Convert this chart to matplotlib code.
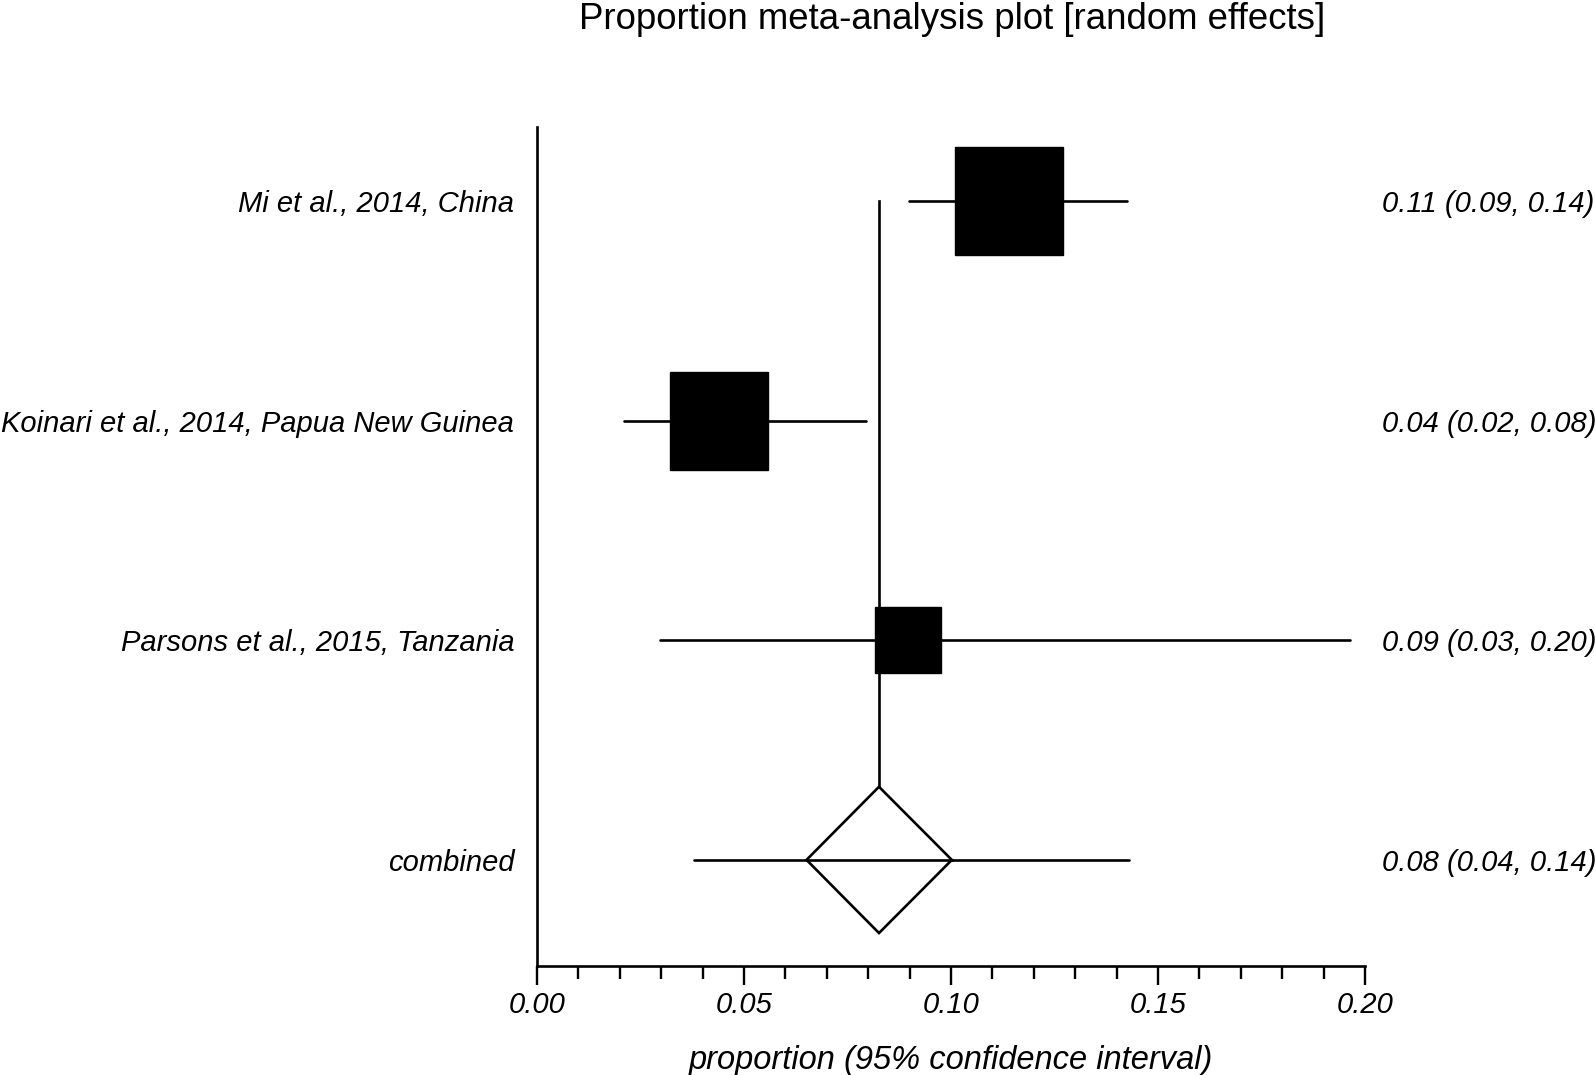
import numpy as np
import matplotlib
matplotlib.use("Agg")
import matplotlib.pyplot as plt
from matplotlib.patches import Polygon

plt.rcParams['font.family'] = ['Liberation Sans', 'DejaVu Sans']

# dados dos estudos
estudos = ["Mi et al., 2014, China",
           "Koinari et al., 2014, Papua New Guinea",
           "Parsons et al., 2015, Tanzania"]
prop = [0.114, 0.044, 0.0896]
ic_inf = [0.0899, 0.0211, 0.0297]
ic_sup = [0.1425, 0.0794, 0.1963]
pesos = [45.2, 37.8, 17.0]
rotulos = ["0.11 (0.09, 0.14)", "0.04 (0.02, 0.08)", "0.09 (0.03, 0.20)"]

# combinado
comb = 0.0826
comb_diam = (0.0651, 0.1002)
comb_ic = (0.0378, 0.143)
comb_rotulo = "0.08 (0.04, 0.14)"

fig = plt.figure(figsize=(15.95, 10.75), dpi=100)
ax = fig.add_axes([0.3367, 0.1014, 0.5191, 0.7805])

n = len(estudos)
ys = np.arange(n + 1, 1, -1)  # 4, 3, 2
y_comb = 1
fs = 21

for y, p, lo, hi, w in zip(ys, prop, ic_inf, ic_sup, pesos):
    ax.plot([lo, hi], [y, y], color='k', lw=1.9, solid_capstyle='round', zorder=2)
    ax.plot(p, y, marker='s', color='k', markersize=np.sqrt(w) * 11.5, zorder=3)

# linha vertical do efeito combinado
meia = 0.333
ax.plot([comb, comb], [ys[0], y_comb + meia], color='k', lw=1.9, zorder=1)
ax.plot(comb_ic, [y_comb, y_comb], color='k', lw=1.9, solid_capstyle='round', zorder=2)
diam = Polygon([[comb_diam[0], y_comb], [comb, y_comb + meia],
                [comb_diam[1], y_comb], [comb, y_comb - meia]],
               closed=True, facecolor='white', edgecolor='k', lw=1.9, zorder=3)
ax.add_patch(diam)
ax.plot(comb_diam, [y_comb, y_comb], color='k', lw=1.9, zorder=4)

# rótulos
for y, nome, r in zip(ys, estudos, rotulos):
    ax.text(-0.0055, y, nome, ha='right', va='center_baseline', fontsize=fs, style='italic')
    ax.text(0.2041, y, r, ha='left', va='center_baseline', fontsize=fs, style='italic')
ax.text(-0.0055, y_comb, "combined", ha='right', va='center_baseline', fontsize=fs, style='italic')
ax.text(0.2041, y_comb, comb_rotulo, ha='left', va='center_baseline', fontsize=fs, style='italic')

ax.set_xlim(0, 0.2)
ax.set_ylim(0.517, 4.337)
ax.spines['top'].set_visible(False)
ax.spines['right'].set_visible(False)
ax.spines['left'].set_linewidth(1.9)
ax.spines['bottom'].set_linewidth(1.9)
ax.set_yticks([])
ax.set_xticks(np.arange(0, 0.201, 0.05))
ax.set_xticks(np.arange(0, 0.201, 0.01), minor=True)
ax.set_xticklabels(["0.00", "0.05", "0.10", "0.15", "0.20"], style='italic', fontsize=fs)
ax.tick_params(axis='x', which='major', length=14, width=1.7, pad=4)
ax.tick_params(axis='x', which='minor', length=9, width=1.7)
ax.set_xlabel("proportion (95% confidence interval)", style='italic', fontsize=23.5, labelpad=19)

fig.text(0.597, 0.982, "Proportion meta-analysis plot [random effects]",
         ha='center', va='center', fontsize=26.4)

fig.savefig("out.png", dpi=100)
